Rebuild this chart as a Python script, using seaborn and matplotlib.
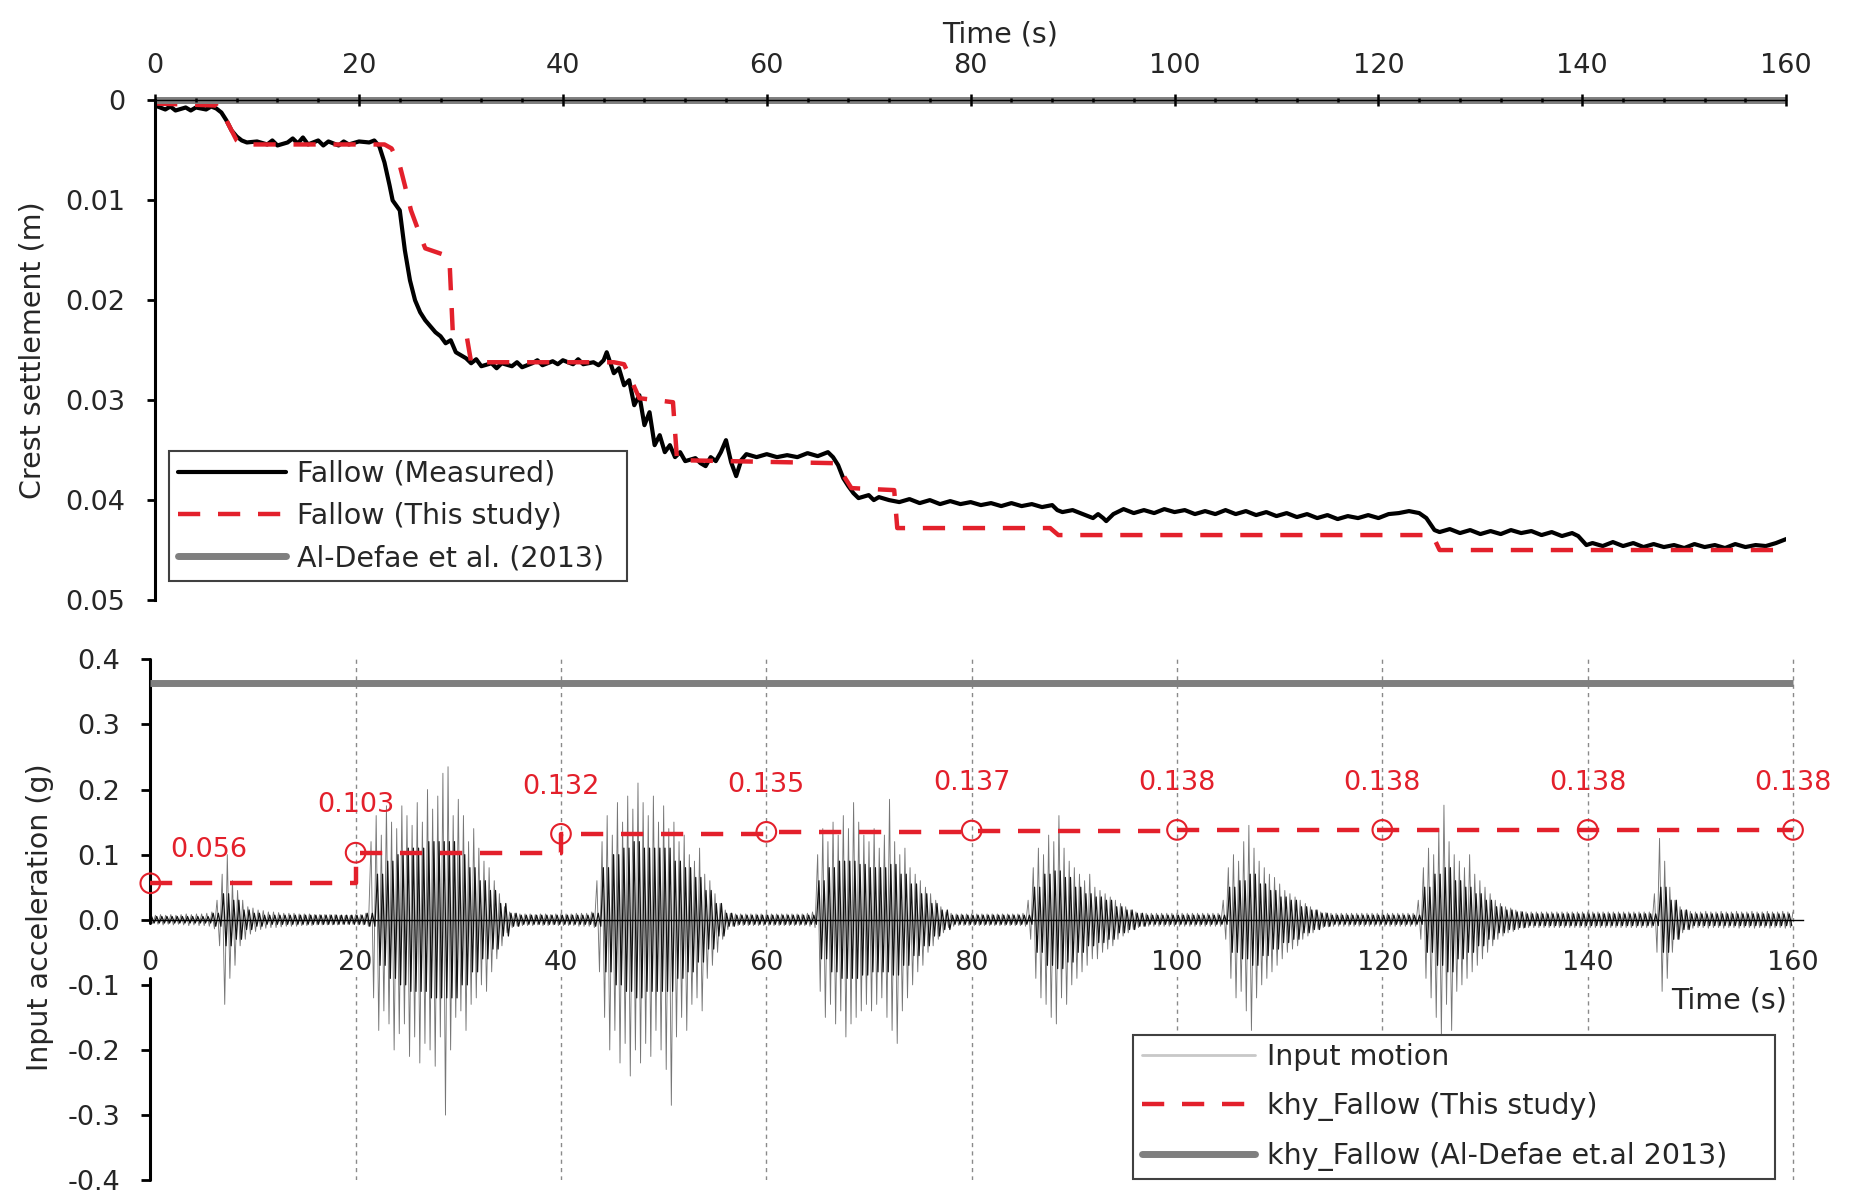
import numpy as np
import pandas as pd
import matplotlib
matplotlib.use("Agg")
import matplotlib.pyplot as plt
import seaborn as sns
from matplotlib.lines import Line2D
from matplotlib.ticker import MultipleLocator, FixedLocator, FuncFormatter

# ---------------- data ----------------
# Crest settlement (m) - Fallow (Measured)
meas_t = [0, 1, 1.5, 2, 3, 3.5, 4, 5, 5.5, 6, 6.5, 7, 7.5, 8, 8.5, 9, 10, 11, 11.5, 12, 13, 13.5,
          14, 14.5, 15, 16, 16.5, 17, 18, 18.5, 19, 20, 21, 21.5, 22, 22.5, 23, 23.3, 24, 24.5, 25,
          25.5, 26, 26.5, 27, 27.5, 28, 28.5, 29, 29.5, 30, 30.5, 31, 31.5, 32, 33, 33.5, 34, 35,
          35.5, 36, 37, 37.5, 38, 39, 39.5, 40, 41, 41.5, 42, 43, 43.5, 44, 44.3, 45, 45.5, 46, 46.5,
          47, 47.5, 48, 48.5, 49, 49.5, 50, 50.5, 51, 51.5, 52, 53, 53.5, 54, 54.5, 55, 55.5, 56,
          56.5, 57, 57.5, 58, 59, 60, 61, 62, 63, 64, 65, 66, 66.5, 67, 67.5, 68, 68.5, 69, 70, 70.5,
          71, 72, 73, 74, 75, 76, 77, 78, 79, 80, 81, 82, 83, 84, 85, 86, 87, 88, 88.5, 89, 90, 91,
          92, 92.5, 93, 93.3, 94, 95, 96, 97, 98, 99, 100, 101, 102, 103, 104, 105, 106, 107, 108,
          109, 110, 111, 112, 113, 114, 115, 116, 117, 118, 119, 120, 121, 122, 123, 124, 124.7,
          125.5, 126, 127, 128, 129, 130, 131, 132, 133, 134, 135, 136, 137, 138, 139, 139.6, 140.4,
          141, 142, 143, 144, 145, 146, 147, 148, 149, 150, 151, 152, 153, 154, 155, 156, 157, 158,
          159, 160]
meas_s = [0.0005, 0.0009, 0.0006, 0.0010, 0.0007, 0.0010, 0.0007, 0.0009, 0.0006, 0.0008, 0.0012,
          0.0020, 0.0030, 0.0036, 0.0040, 0.0042, 0.0041, 0.0044, 0.0040, 0.0045, 0.0042, 0.0038,
          0.0043, 0.0037, 0.0044, 0.0040, 0.0045, 0.0041, 0.0045, 0.0041, 0.0044, 0.0041, 0.0042,
          0.0040, 0.0046, 0.0062, 0.0085, 0.0100, 0.0110, 0.0150, 0.0180, 0.0200, 0.0212, 0.0220,
          0.0226, 0.0232, 0.0236, 0.0243, 0.0240, 0.0252, 0.0255, 0.0258, 0.0263, 0.0259, 0.0266,
          0.0263, 0.0268, 0.0263, 0.0266, 0.0262, 0.0267, 0.0263, 0.0260, 0.0265, 0.0261, 0.0264,
          0.0260, 0.0264, 0.0259, 0.0264, 0.0262, 0.0265, 0.0260, 0.0252, 0.0273, 0.0268, 0.0285,
          0.0280, 0.0305, 0.0295, 0.0325, 0.0312, 0.0345, 0.0335, 0.0352, 0.0345, 0.0357, 0.0352,
          0.0361, 0.0358, 0.0363, 0.0366, 0.0357, 0.0361, 0.0352, 0.0340, 0.0362, 0.0376, 0.0360,
          0.0354, 0.0357, 0.0354, 0.0357, 0.0355, 0.0357, 0.0353, 0.0356, 0.0352, 0.0357, 0.0365,
          0.0378, 0.0386, 0.0393, 0.0398, 0.0395, 0.0400, 0.0397, 0.0400, 0.0402, 0.0399, 0.0403,
          0.0400, 0.0404, 0.0401, 0.0404, 0.0402, 0.0405, 0.0403, 0.0406, 0.0403, 0.0406, 0.0404,
          0.0407, 0.0405, 0.0410, 0.0412, 0.0410, 0.0414, 0.0418, 0.0414, 0.0418, 0.0421, 0.0414,
          0.0409, 0.0413, 0.0410, 0.0413, 0.0409, 0.0412, 0.0410, 0.0414, 0.0411, 0.0414, 0.0410,
          0.0414, 0.0411, 0.0415, 0.0412, 0.0416, 0.0413, 0.0417, 0.0414, 0.0418, 0.0415, 0.0419,
          0.0416, 0.0418, 0.0415, 0.0418, 0.0414, 0.0413, 0.0411, 0.0413, 0.0418, 0.0430, 0.0432,
          0.0429, 0.0433, 0.0430, 0.0434, 0.0431, 0.0434, 0.0430, 0.0433, 0.0431, 0.0435, 0.0432,
          0.0436, 0.0433, 0.0436, 0.0445, 0.0443, 0.0446, 0.0442, 0.0446, 0.0443, 0.0447, 0.0444,
          0.0447, 0.0445, 0.0448, 0.0444, 0.0447, 0.0445, 0.0448, 0.0444, 0.0447, 0.0445, 0.0446,
          0.0443, 0.0439]

# Crest settlement (m) - Fallow (This study)
study_t = [0, 6.0, 6.8, 8.0, 8.5, 22.5, 23.2, 24.0, 24.5, 25.1, 26.0, 26.5, 28.5, 28.9, 29.2,
           30.6, 31.0, 45.0, 46.0, 46.8, 47.5, 50.8, 51.2, 66.5, 67.5, 68.3, 72.5, 72.8, 87.8,
           88.6, 125.3, 126.0, 160]
study_s = [0.0003, 0.0005, 0.0016, 0.0040, 0.0044, 0.0044, 0.0048, 0.0065, 0.0085, 0.0110,
           0.0135, 0.0148, 0.0155, 0.0165, 0.0232, 0.0238, 0.0262, 0.0262, 0.0264, 0.0282,
           0.0298, 0.0302, 0.0360, 0.0363, 0.0375, 0.0388, 0.0390, 0.0428, 0.0428, 0.0435,
           0.0435, 0.0450, 0.0450]

# Al-Defae et al. (2013) settlement
aldefae_t = [0, 160]
aldefae_s = [0.0, 0.0]

# khy (g)
khy_t = [0, 20, 40, 60, 80, 100, 120, 140, 160]
khy_v = [0.056, 0.103, 0.132, 0.135, 0.137, 0.138, 0.138, 0.138, 0.138]
khy_labels = ["0.056", "0.103", "0.132", "0.135", "0.137", "0.138", "0.138", "0.138", "0.138"]
khy_aldefae_t = [0, 160]
khy_aldefae_v = [0.364, 0.364]

# Input motion (g): positive / negative peak envelope read every 0.5 s (0 ... 160 s)
acc_dt = 0.5
acc_pos = [
    0.006, 0.007, 0.008, 0.007, 0.008, 0.007, 0.008, 0.009, 0.008, 0.009, 0.009, 0.010, 0.012, 0.030, 0.070, 0.100, 0.060, 0.045, 0.030, 0.020,
    0.018, 0.015, 0.014, 0.012, 0.012, 0.011, 0.010, 0.010, 0.010, 0.009, 0.009, 0.009, 0.008, 0.008, 0.008, 0.008, 0.008, 0.007, 0.007, 0.007,
    0.008, 0.008, 0.010, 0.120, 0.160, 0.130, 0.175, 0.150, 0.140, 0.175, 0.160, 0.145, 0.180, 0.150, 0.200, 0.170, 0.190, 0.225, 0.235, 0.160,
    0.185, 0.160, 0.120, 0.140, 0.110, 0.090, 0.080, 0.060, 0.040, 0.020, 0.012, 0.010, 0.009, 0.009, 0.009, 0.008, 0.009, 0.009, 0.008, 0.009,
    0.009, 0.009, 0.009, 0.010, 0.010, 0.010, 0.012, 0.060, 0.120, 0.160, 0.130, 0.180, 0.150, 0.190, 0.170, 0.210, 0.180, 0.160, 0.190, 0.150,
    0.175, 0.140, 0.150, 0.120, 0.130, 0.100, 0.090, 0.110, 0.070, 0.060, 0.040, 0.025, 0.015, 0.010, 0.009, 0.009, 0.009, 0.009, 0.009, 0.009,
    0.009, 0.009, 0.009, 0.009, 0.009, 0.009, 0.009, 0.009, 0.010, 0.012, 0.100, 0.140, 0.120, 0.150, 0.130, 0.160, 0.140, 0.180, 0.150, 0.130,
    0.120, 0.140, 0.110, 0.130, 0.185, 0.120, 0.100, 0.110, 0.080, 0.070, 0.060, 0.050, 0.040, 0.030, 0.020, 0.012, 0.010, 0.009, 0.009, 0.009,
    0.009, 0.009, 0.009, 0.009, 0.009, 0.009, 0.009, 0.009, 0.009, 0.009, 0.010, 0.030, 0.080, 0.110, 0.100, 0.130, 0.120, 0.160, 0.110, 0.090,
    0.080, 0.070, 0.060, 0.070, 0.050, 0.045, 0.040, 0.035, 0.030, 0.025, 0.020, 0.015, 0.012, 0.010, 0.010, 0.010, 0.010, 0.010, 0.010, 0.010,
    0.010, 0.010, 0.010, 0.010, 0.010, 0.010, 0.010, 0.010, 0.010, 0.030, 0.080, 0.100, 0.090, 0.120, 0.145, 0.110, 0.090, 0.080, 0.070, 0.065,
    0.055, 0.045, 0.040, 0.035, 0.030, 0.025, 0.020, 0.015, 0.012, 0.011, 0.010, 0.010, 0.010, 0.010, 0.010, 0.010, 0.010, 0.010, 0.010, 0.010,
    0.010, 0.010, 0.010, 0.010, 0.010, 0.010, 0.010, 0.030, 0.080, 0.110, 0.100, 0.140, 0.176, 0.120, 0.100, 0.090, 0.080, 0.100, 0.070, 0.060,
    0.050, 0.040, 0.030, 0.025, 0.020, 0.018, 0.015, 0.013, 0.012, 0.012, 0.012, 0.012, 0.012, 0.012, 0.012, 0.012, 0.012, 0.012, 0.012, 0.012,
    0.012, 0.012, 0.012, 0.012, 0.012, 0.012, 0.012, 0.012, 0.012, 0.012, 0.012, 0.012, 0.012, 0.040, 0.125, 0.090, 0.050, 0.030, 0.020, 0.015,
    0.013, 0.012, 0.012, 0.013, 0.012, 0.012, 0.013, 0.012, 0.012, 0.013, 0.012, 0.012, 0.013, 0.012, 0.012, 0.013, 0.012, 0.012, 0.013, 0.012,
    0.012]
acc_neg = [
    0.006, 0.007, 0.008, 0.007, 0.008, 0.007, 0.008, 0.009, 0.008, 0.009, 0.009, 0.010, 0.014, 0.040, 0.130, 0.090, 0.070, 0.040, 0.030, 0.022,
    0.018, 0.015, 0.013, 0.012, 0.012, 0.011, 0.010, 0.010, 0.010, 0.009, 0.009, 0.009, 0.008, 0.008, 0.008, 0.008, 0.008, 0.007, 0.007, 0.007,
    0.008, 0.008, 0.010, 0.120, 0.170, 0.140, 0.160, 0.200, 0.175, 0.160, 0.210, 0.180, 0.220, 0.190, 0.200, 0.225, 0.180, 0.300, 0.200, 0.150,
    0.140, 0.170, 0.130, 0.120, 0.100, 0.110, 0.080, 0.060, 0.040, 0.020, 0.012, 0.010, 0.009, 0.009, 0.009, 0.008, 0.009, 0.009, 0.008, 0.009,
    0.009, 0.009, 0.009, 0.010, 0.010, 0.010, 0.012, 0.080, 0.150, 0.200, 0.170, 0.220, 0.190, 0.240, 0.200, 0.220, 0.190, 0.210, 0.170, 0.200,
    0.230, 0.285, 0.180, 0.150, 0.170, 0.130, 0.120, 0.140, 0.090, 0.070, 0.050, 0.030, 0.015, 0.010, 0.009, 0.009, 0.009, 0.009, 0.009, 0.009,
    0.009, 0.009, 0.009, 0.009, 0.009, 0.009, 0.009, 0.009, 0.010, 0.012, 0.110, 0.150, 0.130, 0.160, 0.140, 0.180, 0.160, 0.150, 0.140, 0.130,
    0.140, 0.130, 0.120, 0.150, 0.170, 0.190, 0.140, 0.120, 0.100, 0.080, 0.070, 0.050, 0.040, 0.030, 0.020, 0.012, 0.010, 0.009, 0.009, 0.009,
    0.009, 0.009, 0.009, 0.009, 0.009, 0.009, 0.009, 0.009, 0.009, 0.009, 0.010, 0.030, 0.090, 0.120, 0.130, 0.150, 0.160, 0.120, 0.130, 0.100,
    0.090, 0.080, 0.070, 0.060, 0.060, 0.050, 0.045, 0.040, 0.030, 0.025, 0.020, 0.015, 0.012, 0.010, 0.010, 0.010, 0.010, 0.010, 0.010, 0.010,
    0.010, 0.010, 0.010, 0.010, 0.010, 0.010, 0.010, 0.010, 0.010, 0.030, 0.090, 0.120, 0.110, 0.140, 0.170, 0.120, 0.100, 0.090, 0.080, 0.070,
    0.060, 0.050, 0.045, 0.040, 0.030, 0.025, 0.020, 0.015, 0.012, 0.011, 0.010, 0.010, 0.010, 0.010, 0.010, 0.010, 0.010, 0.010, 0.010, 0.010,
    0.010, 0.010, 0.010, 0.010, 0.010, 0.010, 0.010, 0.030, 0.090, 0.120, 0.150, 0.178, 0.130, 0.170, 0.110, 0.100, 0.090, 0.080, 0.070, 0.060,
    0.050, 0.040, 0.030, 0.025, 0.020, 0.018, 0.015, 0.013, 0.012, 0.012, 0.012, 0.012, 0.012, 0.012, 0.012, 0.012, 0.012, 0.012, 0.012, 0.012,
    0.012, 0.012, 0.012, 0.012, 0.012, 0.012, 0.012, 0.012, 0.012, 0.012, 0.012, 0.012, 0.012, 0.050, 0.110, 0.090, 0.050, 0.030, 0.020, 0.015,
    0.013, 0.012, 0.012, 0.013, 0.012, 0.012, 0.013, 0.012, 0.012, 0.013, 0.012, 0.012, 0.013, 0.012, 0.012, 0.013, 0.012, 0.012, 0.013, 0.012,
    0.012]
# Input motion (g): amplitude of the dense dark core of the record, read every 1 s (0 ... 160 s)
acc_core_dt = 1.0
acc_core = [
    0.005, 0.005, 0.005, 0.005, 0.005, 0.005, 0.010, 0.040, 0.030, 0.015,
    0.010, 0.007, 0.007, 0.007, 0.007, 0.007, 0.007, 0.007, 0.007, 0.007,
    0.007, 0.010, 0.070, 0.090, 0.100, 0.110, 0.110, 0.120, 0.120, 0.120,
    0.100, 0.080, 0.060, 0.045, 0.025, 0.010, 0.007, 0.007, 0.007, 0.007,
    0.007, 0.007, 0.007, 0.010, 0.080, 0.100, 0.110, 0.120, 0.110, 0.110,
    0.110, 0.090, 0.080, 0.065, 0.045, 0.025, 0.010, 0.007, 0.007, 0.007,
    0.007, 0.007, 0.007, 0.007, 0.007, 0.060, 0.080, 0.090, 0.090, 0.085,
    0.080, 0.080, 0.085, 0.070, 0.055, 0.040, 0.025, 0.015, 0.007, 0.007,
    0.007, 0.007, 0.007, 0.007, 0.007, 0.007, 0.050, 0.070, 0.075, 0.065,
    0.050, 0.040, 0.035, 0.030, 0.020, 0.015, 0.010, 0.007, 0.007, 0.007,
    0.007, 0.007, 0.007, 0.007, 0.007, 0.050, 0.060, 0.070, 0.055, 0.045,
    0.035, 0.030, 0.020, 0.015, 0.010, 0.007, 0.007, 0.007, 0.007, 0.007,
    0.007, 0.007, 0.007, 0.007, 0.050, 0.070, 0.080, 0.060, 0.050, 0.040,
    0.030, 0.020, 0.015, 0.012, 0.009, 0.009, 0.009, 0.009, 0.009, 0.009,
    0.009, 0.009, 0.009, 0.009, 0.009, 0.009, 0.009, 0.050, 0.030, 0.015,
    0.009, 0.009, 0.009, 0.009, 0.009, 0.009, 0.009, 0.009, 0.009, 0.009,
    0.009]

top_xticks = [0, 20, 40, 60, 80, 100, 120, 140, 160]
top_yticks = [0, 0.01, 0.02, 0.03, 0.04, 0.05]
bot_yticks = [0.4, 0.3, 0.2, 0.1, 0.0, -0.1, -0.2, -0.3, -0.4]
legend1_labels = ["Fallow (Measured)", "Fallow (This study)", "Al-Defae et al. (2013)"]
legend2_labels = ["Input motion", "khy_Fallow (This study)", "khy_Fallow (Al-Defae et.al 2013)"]

# ---------------- style ----------------
sns.set_theme(style="white")
plt.rcParams["font.family"] = ["DejaVu Sans"]
plt.rcParams["axes.unicode_minus"] = False

RED = "#e3202b"
GRAY = "#7f7f7f"
TXT = "#262626"
FS_TICK = 19.5
FS_LAB = 20.5

fig = plt.figure(figsize=(18.56, 11.95), dpi=100)
ax1 = fig.add_axes([0.08357, 0.49791, 0.87882, 0.41799])
ax2 = fig.add_axes([0.08098, 0.01238, 0.89062, 0.43590])

# ================= top panel =================
df_meas = pd.DataFrame({"t": meas_t, "s": meas_s})
df_study = pd.DataFrame({"t": study_t, "s": study_s})
sns.lineplot(data=df_meas, x="t", y="s", ax=ax1, color="black", lw=3.0,
             estimator=None, sort=False, legend=False)
sns.lineplot(data=df_study, x="t", y="s", ax=ax1, color=RED, lw=3.2,
             estimator=None, sort=False, legend=False)
ax1.get_lines()[-1].set_dashes([5, 4])
ax1.plot(aldefae_t, aldefae_s, color=GRAY, lw=5, solid_capstyle="butt",
         clip_on=False, zorder=2.3)

ax1.set_xlim(0, 160)
ax1.set_ylim(0.05, 0)
ax1.set_axisbelow(False)
for sp in ["bottom", "right"]:
    ax1.spines[sp].set_visible(False)
ax1.spines["top"].set_color("black")
ax1.spines["top"].set_linewidth(1.0)
ax1.spines["left"].set_color("black")
ax1.spines["left"].set_linewidth(2.2)

ax1.xaxis.set_major_locator(FixedLocator(top_xticks))
ax1.xaxis.set_minor_locator(MultipleLocator(4))
ax1.xaxis.tick_top()
ax1.xaxis.set_label_position("top")
ax1.tick_params(axis="x", which="major", direction="inout", length=8.5, width=1.8,
                color="black", top=True, bottom=False, labeltop=True, labelbottom=False,
                pad=11, labelsize=FS_TICK, labelcolor=TXT)
ax1.tick_params(axis="x", which="minor", direction="inout", length=3, width=1.8,
                color="black", top=True, bottom=False)
ax1.yaxis.set_major_locator(FixedLocator(top_yticks))
ax1.yaxis.set_major_formatter(FuncFormatter(lambda v, p: "0" if abs(v) < 1e-9 else f"{v:.2f}"))
ax1.tick_params(axis="y", which="major", direction="out", length=6, width=2.0,
                color="black", left=True, pad=15.5, labelsize=FS_TICK, labelcolor=TXT)
ax1.set_xlabel("Time (s)", fontsize=FS_LAB, color=TXT)
ax1.xaxis.set_label_coords(0.518, 1.117)
ax1.set_ylabel("Crest settlement (m)", fontsize=FS_LAB, color=TXT)
ax1.yaxis.set_label_coords(-0.0663, 0.5)

h1 = [Line2D([], [], color="black", lw=3.0),
      Line2D([], [], color=RED, lw=3.2, dashes=[5, 4]),
      Line2D([], [], color=GRAY, lw=5)]
leg1 = ax1.legend(h1, legend1_labels, loc="lower left",
                  bbox_to_anchor=(0.0085, 0.0382, 0.2808, 0.2), mode="expand",
                  borderaxespad=0, frameon=True, fancybox=False, framealpha=1,
                  edgecolor="#404040", fontsize=FS_LAB, handlelength=3.8,
                  handletextpad=0.4, labelspacing=0.5, borderpad=0.3)
leg1.get_frame().set_linewidth(1.5)
for t in leg1.get_texts():
    t.set_color(TXT)

# ================= bottom panel =================
acc_p = np.asarray(acc_pos)
acc_n = np.asarray(acc_neg)
t_env = np.arange(len(acc_p)) * acc_dt
zig_t = np.column_stack([t_env, t_env + acc_dt / 2]).ravel()[:-1]
zig_a = np.column_stack([acc_p, -acc_n]).ravel()[:-1]
df_acc = pd.DataFrame({"t": zig_t, "a": zig_a})
sns.lineplot(data=df_acc, x="t", y="a", ax=ax2, color="#767676", lw=0.65,
             estimator=None, sort=False, legend=False, zorder=2)

# dark core of the record: each 1-s amplitude drawn as four half-cycles
core = np.asarray(acc_core)
t_core = np.arange(len(core)) * acc_core_dt
q = acc_core_dt / 4
core_t = np.column_stack([t_core + q * 0.5, t_core + q * 1.5, t_core + q * 2.5, t_core + q * 3.5]).ravel()
core_a = np.column_stack([core, -core, core, -core]).ravel()
keep = core_t <= 160
df_core = pd.DataFrame({"t": core_t[keep], "a": core_a[keep]})
sns.lineplot(data=df_core, x="t", y="a", ax=ax2, color="#111111", lw=0.9,
             estimator=None, sort=False, legend=False, zorder=2.1)

ax2.plot(khy_aldefae_t, khy_aldefae_v, color=GRAY, lw=5, solid_capstyle="butt", zorder=3)
df_khy = pd.DataFrame({"t": khy_t, "v": khy_v})
sns.lineplot(data=df_khy, x="t", y="v", ax=ax2, color=RED, lw=3.2, drawstyle="steps-post",
             estimator=None, sort=False, legend=False, zorder=3.5)
ax2.get_lines()[-1].set_dashes([5, 4])
ax2.scatter(khy_t, khy_v, s=200, facecolors="none", edgecolors=RED, linewidths=1.5,
            zorder=4, clip_on=False)
for i, (tt, vv, lab) in enumerate(zip(khy_t, khy_v, khy_labels)):
    off = (42, 24) if i == 0 else (0, 34)
    ax2.annotate(lab, xy=(tt, vv), xytext=off, textcoords="offset points",
                 ha="center", va="center", fontsize=FS_TICK, color=RED, zorder=5)

ax2.set_xlim(0, 161)
ax2.set_ylim(-0.4, 0.4)
ax2.set_xlabel("")
for sp in ["top", "right", "left"]:
    ax2.spines[sp].set_visible(False)
ax2.spines["bottom"].set_position(("data", 0))
ax2.spines["bottom"].set_color("black")
ax2.spines["bottom"].set_linewidth(1.0)
# left axis line, interrupted below zero where the "0" time label sits
ax2.axvline(0, ymin=(-0.005 + 0.4) / 0.8, ymax=1.0, color="black", lw=2.2, clip_on=False, zorder=2.6)
ax2.axvline(0, ymin=0.0, ymax=(-0.09 + 0.4) / 0.8, color="black", lw=2.2, clip_on=False, zorder=2.6)

ax2.xaxis.set_major_locator(FixedLocator(top_xticks))
ax2.tick_params(axis="x", which="major", length=0, pad=21.5, labelsize=FS_TICK,
                labelcolor=TXT, bottom=True)
ax2.yaxis.set_major_locator(FixedLocator(bot_yticks))
ax2.yaxis.set_major_formatter(FuncFormatter(lambda v, p: f"{round(v, 1) + 0.0:.1f}"))
ax2.tick_params(axis="y", which="major", direction="out", length=6.5, width=2.0,
                color="black", left=True, pad=15, labelsize=FS_TICK, labelcolor=TXT)
ax2.grid(axis="x", which="major", color="#8a8a8a", lw=1.0, linestyle=(0, (3, 3)))
ax2.grid(axis="y", visible=False)
for lab in ax2.get_xticklabels():
    lab.set_bbox(dict(facecolor="white", edgecolor="none", pad=1.0))

ax2.text(159.4, -0.1234, "Time (s)", ha="right", va="center", fontsize=FS_LAB, color=TXT)
ax2.set_ylabel("Input acceleration (g)", fontsize=FS_LAB, color=TXT)
ax2.yaxis.set_label_coords(-0.0583, 0.505)

h2 = [Line2D([], [], color="#c8c8c8", lw=2.0),
      Line2D([], [], color=RED, lw=3.2, dashes=[5, 4]),
      Line2D([], [], color=GRAY, lw=5)]
leg2 = ax2.legend(h2, legend2_labels, loc="lower left",
                  bbox_to_anchor=(0.5945, 0.0017, 0.3884, 0.2), mode="expand",
                  borderaxespad=0, frameon=True, fancybox=False, framealpha=1,
                  edgecolor="#404040", fontsize=FS_LAB, handlelength=4.0,
                  handletextpad=0.42, labelspacing=0.73, borderpad=0.3)
leg2.get_frame().set_linewidth(1.5)
for t in leg2.get_texts():
    t.set_color(TXT)

ax2.xaxis.get_major_ticks()[0].gridline.set_visible(False)

fig.savefig("out.png", dpi=100)
